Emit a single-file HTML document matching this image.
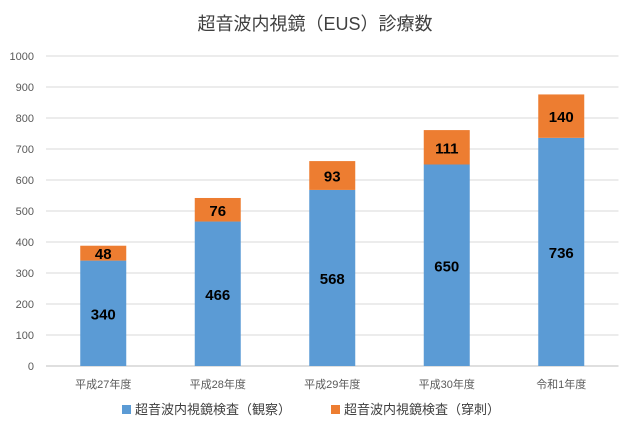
<!DOCTYPE html>
<html><head><meta charset="utf-8"><style>
body{margin:0;background:#fff;}
svg{display:block;font-family:"Liberation Sans","Noto Sans CJK JP",sans-serif;}
</style></head><body>
<svg id="c" width="630" height="431" viewBox="0 0 630 431">
<text x="315" y="30" text-anchor="middle" font-size="18" fill="#404040">超音波内視鏡（EUS）診療数</text>
<g id="grid"></g><g id="bars"></g><g id="labels"></g>
<g>
<rect x="122" y="405" width="9" height="9" fill="#5B9BD5"/>
<text x="135" y="414" font-size="13" fill="#404040">超音波内視鏡検査（観察）</text>
<rect x="331" y="405" width="9" height="9" fill="#ED7D31"/>
<text x="344" y="414" font-size="13" fill="#404040">超音波内視鏡検査（穿刺）</text>
</g>
</svg>
<script>
const categories=["平成27年度","平成28年度","平成29年度","平成30年度","令和1年度"];
const observation=[340,466,568,650,736];
const puncture=[48,76,93,111,140];
const yTicks=[0,100,200,300,400,500,600,700,800,900,1000];
const NS="http://www.w3.org/2000/svg";
const L=46,R=618.5,Y0=366,Y1=56,YMAX=1000;
const y=v=>Y0-(v/YMAX)*(Y0-Y1);
const step=(R-L)/categories.length;
const xc=i=>L+step*(i+0.5);
const BW=46;
function mk(t,a,p){const e=document.createElementNS(NS,t);for(const k in a)e.setAttribute(k,a[k]);p.appendChild(e);return e;}
const grid=document.getElementById('grid'),bars=document.getElementById('bars'),labels=document.getElementById('labels');
yTicks.forEach(v=>{
 const l=mk('line',{x1:L,x2:R,y1:y(v),y2:y(v),stroke:v===0?'#bfbfbf':'#d9d9d9','stroke-width':1},grid);
 
 
 const t=mk('text',{x:34,y:y(v)+4,'text-anchor':'end','font-size':11,fill:'#595959'},grid);
 t.textContent=v;
 
 
});
categories.forEach((c,i)=>{
 const x=xc(i)-BW/2;
 const b1=mk('rect',{x:x,y:y(observation[i]),width:BW,height:Y0-y(observation[i]),fill:'#5B9BD5'},bars);
 
 
 const top=observation[i]+puncture[i];
 const b2=mk('rect',{x:x,y:y(top),width:BW,height:y(observation[i])-y(top),fill:'#ED7D31'},bars);
 
 
 const t1=mk('text',{x:xc(i),y:(y(observation[i])+Y0)/2+6,'text-anchor':'middle','font-size':15,'font-weight':'bold',fill:'#000'},labels);
 t1.textContent=observation[i];
 
 
 const t2=mk('text',{x:xc(i),y:(y(top)+y(observation[i]))/2+6,'text-anchor':'middle','font-size':15,'font-weight':'bold',fill:'#000'},labels);
 t2.textContent=puncture[i];
 
 
 const tc=mk('text',{x:xc(i),y:388,'text-anchor':'middle','font-size':11,fill:'#595959'},labels);
 tc.textContent=c;
 
 
});
</script>
</body></html>
